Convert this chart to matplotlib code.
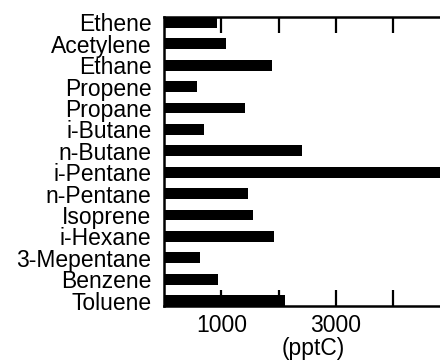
import numpy as np
import matplotlib.pyplot as plt

plt.rcParams['font.family'] = ['Liberation Sans', 'DejaVu Sans']

# Mean mixing ratios of the measured hydrocarbons
compounds = ["Ethene", "Acetylene", "Ethane", "Propene", "Propane",
             "i-Butane", "n-Butane", "i-Pentane", "n-Pentane", "Isoprene",
             "i-Hexane", "3-Mepentane", "Benzene", "Toluene"]
values = [930, 1080, 1880, 570, 1415, 705, 2400, 5300, 1460, 1555,
          1920, 625, 950, 2115]

xticks = [1000, 2000, 3000, 4000]
xticklabels = ["1000", "", "3000", ""]

fig = plt.figure(figsize=(4.4, 3.63), dpi=100)
# axes runs past the right edge of the figure
ax = fig.add_axes([164 / 440, 57 / 363, 298 / 440, 289 / 363])

y = np.arange(len(compounds))
ax.barh(y, values, height=0.5, color='black')

ax.set_xlim(0, 5200)
ax.set_ylim(len(compounds) - 0.75, -0.25)

ax.set_yticks(y)
ax.set_yticklabels(compounds, fontsize=16.5)
ax.tick_params(axis='y', length=0, pad=9)

ax.set_xticks(xticks)
ax.set_xticklabels(xticklabels, fontsize=16.5)
ax.tick_params(axis='x', direction='in', length=11.5, width=1.6,
               top=True, bottom=True, pad=5.5)
ax.set_xlabel("(pptC)", fontsize=16.5, labelpad=0)

for side in ['left', 'top', 'bottom']:
    ax.spines[side].set_linewidth(1.8)
ax.spines['right'].set_visible(False)

fig.savefig("out.png", dpi=100)
